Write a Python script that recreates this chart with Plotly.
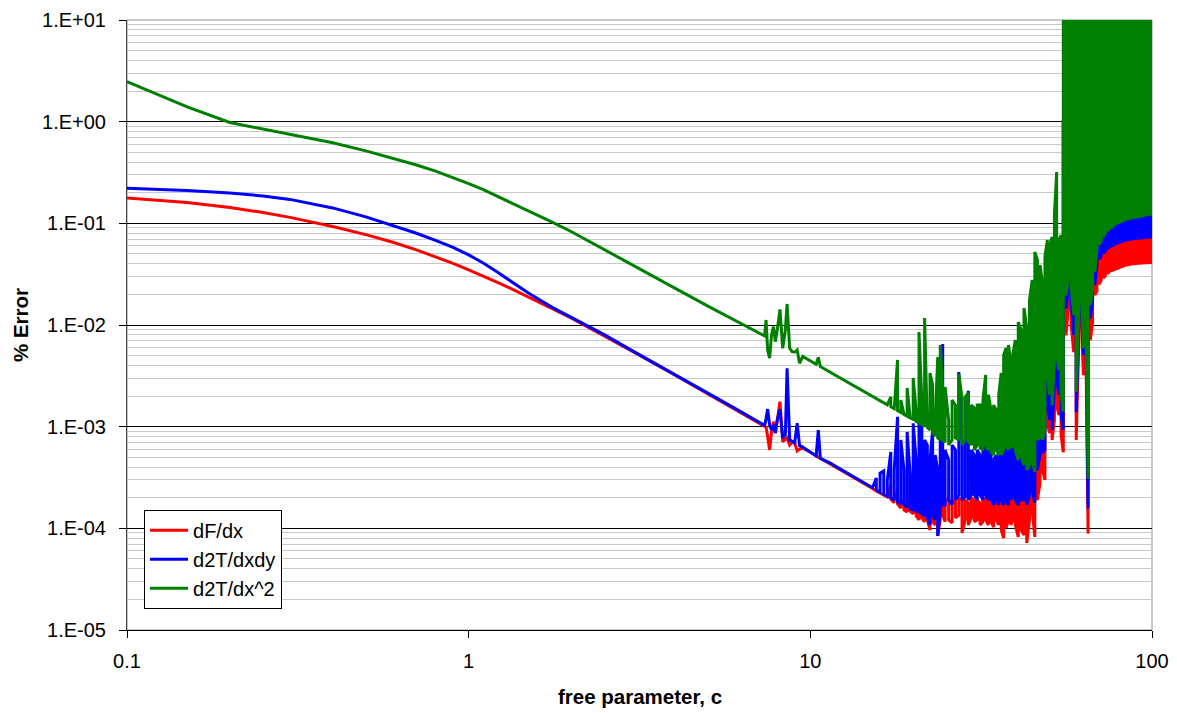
import plotly.graph_objects as go

# ---------------- data ----------------
# smooth part of the curves
c_smooth = [0.1, 0.12, 0.15, 0.2, 0.25, 0.3, 0.4, 0.5, 0.6, 0.7, 0.8, 0.9,
            1.0, 1.1, 1.2, 1.35, 1.5, 1.75, 2.0, 2.5, 3.0, 4.0, 5.0, 6.0, 7.0]
red_smooth = [0.177, 0.170, 0.160, 0.143, 0.128, 0.1145, 0.0930, 0.0775, 0.0652, 0.0552, 0.0470, 0.0403,
              0.0348, 0.0304, 0.0267, 0.0223, 0.0189, 0.0146, 0.0117, 0.00780, 0.00555, 0.00324,
              0.00212, 0.00150, 0.00111]
blue_smooth = [0.2212, 0.2172, 0.2109, 0.1988, 0.1857, 0.1720, 0.1418, 0.1159, 0.0959, 0.0804, 0.0681, 0.0581,
               0.0489, 0.0410, 0.0339, 0.0259, 0.0205, 0.0150, 0.0119, 0.00800, 0.00563, 0.00329,
               0.00215, 0.00152, 0.00113]
green_smooth = [2.47, 1.91, 1.40, 0.981, 0.851, 0.756, 0.620, 0.516, 0.4355, 0.3764, 0.3258, 0.2829,
                0.246, 0.2153, 0.188, 0.1566, 0.133, 0.1035, 0.0827, 0.0552, 0.0395, 0.0232,
                0.0154, 0.0112, 0.0085]

# first spikes (c ~ 7 .. 15)
c_spikes = [7.35, 7.42, 7.5, 7.6, 7.7, 7.8, 7.9, 8.0, 8.15, 8.3, 8.45, 8.55, 8.7, 8.85,
            9.0, 9.15, 9.3, 9.5, 10.0, 10.4, 10.55, 10.7, 11.4, 12.6, 14.0]
red_spikes = [0.00102, 0.00099, 0.00080, 0.00059, 0.000887, 0.00112, 0.000867, 0.00116, 0.00176,
              0.000711, 0.00074, 0.000775, 0.00066, 0.000706, 0.00069, 0.000577, 0.000603,
              0.000615, 0.00056, 0.000515, 0.000501, 0.000488, 0.000432, 0.000357, 0.000292]
blue_spikes = [0.00103, 0.00120, 0.00149, 0.00104, 0.000927, 0.00104, 0.000867, 0.00116, 0.00148,
               0.000775, 0.000828, 0.00375, 0.00074, 0.00072, 0.00069, 0.00108, 0.00065,
               0.00063, 0.000561, 0.000515, 0.000927, 0.000489, 0.00044, 0.00036, 0.000293]
green_spikes = [0.0078, 0.0112, 0.00568, 0.00473, 0.00798, 0.00962, 0.00686, 0.00893, 0.01426,
                0.0059, 0.00893, 0.0161, 0.0059, 0.00546, 0.00542, 0.00568, 0.0042,
                0.00491, 0.00447, 0.00411, 0.00481, 0.00391, 0.00345, 0.00285, 0.00233]

# noisy part (c ~ 15 .. 54): every c carries a pair of values (low/high)
c_noise = [15.2, 15.2, 15.6, 15.6, 16.0, 16.0, 16.4, 16.4, 16.8, 16.8, 17.2, 17.2,
           17.6, 17.6, 18.0, 18.0, 18.4, 18.4, 18.8, 18.8, 19.2, 19.2, 19.6, 19.6,
           20.0, 20.0, 20.4, 20.4, 20.8, 20.8, 21.2, 21.2, 21.6, 21.6, 22.0, 22.0,
           22.4, 22.4, 22.8, 22.8, 23.2, 23.2, 23.6, 23.6, 24.0, 24.0, 24.4, 24.4,
           24.8, 24.8, 25.4, 25.4, 26.0, 26.0, 26.6, 26.6, 27.2, 27.2, 27.8, 27.8,
           28.4, 28.4, 29.0, 29.0, 29.6, 29.6, 30.2, 30.2, 30.8, 30.8, 31.4, 31.4,
           32.0, 32.0, 32.6, 32.6, 33.2, 33.2, 33.8, 33.8, 34.4, 34.4, 35.0, 35.0,
           35.6, 35.6, 36.2, 36.2, 36.8, 36.8, 37.4, 37.4, 38.0, 38.0, 38.6, 38.6,
           39.2, 39.2, 39.8, 39.8, 40.6, 40.6, 41.4, 41.4, 42.2, 42.2, 43.0, 43.0,
           43.8, 43.8, 44.6, 44.6, 45.4, 45.4, 46.2, 46.2, 47.0, 47.0, 47.8, 47.8,
           48.6, 48.6, 49.4, 49.4, 50.2, 50.2, 51.0, 51.0, 51.8, 51.8, 52.6, 52.6,
           53.4, 53.4, 54.2, 54.2]
green_noise = [0.00199, 0.00199, 0.00190, 0.00190, 0.00180, 0.00180, 0.00172, 0.00172,
               0.00164, 0.00164, 0.00196, 0.00157, 0.00150, 0.00150, 0.00453, 0.00144,
               0.00138, 0.00183, 0.00132, 0.00132, 0.00127, 0.00240, 0.00122, 0.00122,
               0.00118, 0.00301, 0.00146, 0.00113, 0.00109, 0.00853, 0.00183, 0.00105,
               0.00101, 0.01172, 0.00130, 0.000979, 0.000928, 0.00337, 0.00257, 0.000867,
               0.00081, 0.00116, 0.00485, 0.000774, 0.00074, 0.00636, 0.00230, 0.00074,
               0.000707, 0.00246, 0.00116, 0.00066, 0.00074, 0.00183, 0.00163, 0.000774,
               0.00074, 0.00330, 0.00190, 0.00066, 0.00074, 0.00196, 0.00215, 0.000707,
               0.00066, 0.00163, 0.00153, 0.00059, 0.00066, 0.00163, 0.00163, 0.000617,
               0.00059, 0.00183, 0.00323, 0.00066, 0.00059, 0.00206, 0.00146, 0.000564,
               0.000527, 0.00163, 0.00146, 0.00059, 0.000527, 0.00206, 0.00337, 0.000527,
               0.00059, 0.00508, 0.00594, 0.00066, 0.00059, 0.00636, 0.00453, 0.000617,
               0.00066, 0.00530, 0.00712, 0.00059, 0.00047, 0.0107, 0.00893, 0.000527,
               0.00042, 0.0147, 0.00955, 0.000375, 0.00042, 0.0176, 0.0277, 0.00047,
               0.000359, 0.0523, 0.0436, 0.00074, 0.000792, 0.0389, 0.0259, 0.00074,
               0.000928, 0.0467, 0.0686, 0.00323, 0.00206, 0.0613, 0.0734, 0.00163,
               0.00453, 0.121, 0.32, 0.00531, 0.00361, 0.0686, 0.0768, 0.00206]
blue_noise = [0.000251, 0.000251, 0.000313, 0.000238, 0.000227, 0.000350, 0.000367, 0.000217,
              0.000208, 0.000299, 0.000564, 0.000199, 0.000190, 0.000375, 0.00125, 0.000182,
              0.000174, 0.00074, 0.000375, 0.000170, 0.000162, 0.000887, 0.000335, 0.000155,
              0.000152, 0.00108, 0.00047, 0.000148, 0.000145, 0.00146, 0.00140, 0.000139,
              0.000133, 0.00074, 0.00066, 0.000127, 0.000108, 0.00047, 0.000928, 0.000135,
              0.000121, 0.000527, 0.000375, 0.0000841, 0.000152, 0.000928, 0.0065, 0.00017,
              0.00017, 0.00059, 0.00047, 0.00019, 0.00017, 0.00066, 0.00059, 0.00019,
              0.000213, 0.00345, 0.00074, 0.00019, 0.000203, 0.00066, 0.00225, 0.00019,
              0.000213, 0.00059, 0.000527, 0.000213, 0.00019, 0.00059, 0.000527, 0.000213,
              0.00019, 0.00059, 0.00074, 0.000213, 0.00019, 0.00059, 0.000527, 0.00019,
              0.00017, 0.00047, 0.000527, 0.00019, 0.00017, 0.00059, 0.00066, 0.00019,
              0.00017, 0.00074, 0.000928, 0.00019, 0.00017, 0.00074, 0.000828, 0.00019,
              0.000213, 0.000928, 0.000928, 0.00019, 0.00017, 0.00116, 0.00116, 0.00019,
              0.00019, 0.00104, 0.00116, 0.00017, 0.000213, 0.00146, 0.00183, 0.000238,
              0.000178, 0.00183, 0.00288, 0.000375, 0.000527, 0.00361, 0.00453, 0.000552,
              0.00059, 0.00568, 0.00893, 0.0017, 0.00116, 0.0112, 0.0176, 0.000928,
              0.00257, 0.0221, 0.0277, 0.00288, 0.00206, 0.0348, 0.0277, 0.0013]
red_noise = [0.000247, 0.000247, 0.000233, 0.000233, 0.000222, 0.000222, 0.000213, 0.000213,
             0.000203, 0.000203, 0.000267, 0.000194, 0.000178, 0.000190, 0.000238, 0.000174,
             0.000158, 0.00019, 0.000178, 0.000152, 0.000145, 0.00017, 0.00017, 0.000148,
             0.000139, 0.00017, 0.000159, 0.000133, 0.000121, 0.00017, 0.00017, 0.000127,
             0.000116, 0.000159, 0.00017, 0.000121, 0.0000963, 0.000152, 0.00017, 0.000116,
             0.000108, 0.000159, 0.000152, 0.0000841, 0.000121, 0.00019, 0.000213, 0.000135,
             0.000116, 0.00019, 0.00019, 0.000121, 0.000113, 0.000178, 0.00019, 0.000127,
             0.000135, 0.000199, 0.00019, 0.00009, 0.000121, 0.00019, 0.000178, 0.000108,
             0.000127, 0.000199, 0.00019, 0.000116, 0.000121, 0.00019, 0.000178, 0.000108,
             0.000116, 0.00019, 0.000199, 0.000121, 0.000108, 0.00019, 0.00019, 0.000116,
             0.000103, 0.00017, 0.00019, 0.000121, 0.000108, 0.00019, 0.000178, 0.0000963,
             0.0000803, 0.00017, 0.00019, 0.000101, 0.000121, 0.000213, 0.000199, 0.000108,
             0.000121, 0.000213, 0.000199, 0.000108, 0.0000823, 0.00019, 0.000213, 0.0000963,
             0.0000861, 0.000238, 0.000213, 0.0000719, 0.000121, 0.000299, 0.000375, 0.000152,
             0.0000823, 0.000299, 0.00074, 0.00019, 0.000279, 0.000928, 0.00116, 0.000375,
             0.000299, 0.00116, 0.00288, 0.00104, 0.000867, 0.00361, 0.00453, 0.00074,
             0.00116, 0.00712, 0.00893, 0.00163, 0.0013, 0.00893, 0.00893, 0.000828]

# very dense part (c ~ 55 .. 100): every c carries a low and a high value
c_block = [55, 55, 56, 56, 57, 57, 58, 58, 59, 59, 60, 60, 61, 61, 62, 62, 63, 63,
           64, 64, 65, 65, 66, 66, 67, 67, 68, 68, 69, 69, 70, 70, 71, 71, 72, 72,
           73, 73, 74, 74, 75, 75, 76, 76, 77, 77, 78, 78, 79, 79, 80, 80, 81, 81,
           82, 82, 83, 83, 84, 84, 85, 85, 86, 86, 87, 87, 88, 88, 89, 89, 90, 90,
           91, 91, 92, 92, 93, 93, 94, 94, 95, 95, 96, 96, 97, 97, 98, 98, 99, 99,
           100, 100]
green_block = [0.00141, 1e3, 1e3, 0.0195, 0.0321, 1e3, 1e3, 0.0229, 0.0125, 1e3,
               1e3, 0.00219, 0.0125, 1e3, 1e3, 0.0248, 0.0059, 1e3, 1e3, 0.0145,
               0.00031, 1e3, 1e3, 0.0157, 0.0229, 1e3, 1e3, 0.0332, 0.0566, 1e3,
               1e3, 0.0620, 0.0670, 1e3, 1e3, 0.0740, 0.0800, 1e3, 1e3, 0.0840,
               0.0880, 1e3, 1e3, 0.0905, 0.0940, 1e3, 1e3, 0.0975, 0.1000, 1e3,
               1e3, 0.1015, 0.1040, 1e3, 1e3, 0.1060, 0.1075, 1e3, 1e3, 0.1100,
               0.1110, 1e3, 1e3, 0.1120, 0.1130, 1e3, 1e3, 0.1140, 0.1150, 1e3,
               1e3, 0.1155, 0.1160, 1e3, 1e3, 0.1170, 0.1180, 1e3, 1e3, 0.1190,
               0.1200, 1e3, 1e3, 0.1210, 0.1220, 1e3, 1e3, 0.1225, 0.1230, 1e3,
               1e3, 0.1236]
blue_block = [0.00093, 1, 1, 0.0145, 0.0229, 1, 1, 0.0163, 0.0080, 1,
              1, 0.00139, 0.0093, 1, 1, 0.0182, 0.0051, 1, 1, 0.0107,
              0.000157, 1, 1, 0.0116, 0.0176, 1, 1, 0.0248, 0.0389, 1,
              1, 0.0445, 0.0480, 1, 1, 0.0510, 0.0530, 1, 1, 0.0560,
              0.0590, 1, 1, 0.0598, 0.0610, 1, 1, 0.0628, 0.0640, 1,
              1, 0.0648, 0.0660, 1, 1, 0.0668, 0.0680, 1, 1, 0.0686,
              0.0690, 1, 1, 0.0698, 0.0700, 1, 1, 0.0705, 0.0710, 1,
              1, 0.0710, 0.0715, 1, 1, 0.0718, 0.0720, 1, 1, 0.0722,
              0.0725, 1, 1, 0.0728, 0.0730, 1, 1, 0.0732, 0.0734, 1,
              1, 0.0735]
red_block = [0.00056, 1, 1, 0.0079, 0.0156, 1, 1, 0.0100, 0.0054, 1,
             1, 0.00074, 0.0059, 1, 1, 0.0134, 0.0032, 1, 1, 0.0080,
             0.000089, 1, 1, 0.0071, 0.0107, 1, 1, 0.0197, 0.0214, 1,
             1, 0.0252, 0.0275, 1, 1, 0.0290, 0.0303, 1, 1, 0.0320,
             0.0335, 1, 1, 0.0340, 0.0350, 1, 1, 0.0355, 0.0362, 1,
             1, 0.0366, 0.0374, 1, 1, 0.0378, 0.0384, 1, 1, 0.0389,
             0.0392, 1, 1, 0.0395, 0.0398, 1, 1, 0.0400, 0.0402, 1,
             1, 0.0403, 0.0405, 1, 1, 0.0406, 0.0407, 1, 1, 0.0408,
             0.0409, 1, 1, 0.0410, 0.0411, 1, 1, 0.0411, 0.0412, 1,
             1, 0.0412]

series_names = ["dF/dx", "d2T/dxdy", "d2T/dx^2"]
series_colors = ["#ff0000", "#0000ff", "#008000"]

x_tickvals = [0.1, 1, 10, 100]
x_ticktext = ["0.1", "1", "10", "100"]
y_tickvals = [1e-5, 1e-4, 1e-3, 1e-2, 1e-1, 1, 10]
y_ticktext = ["1.E-05", "1.E-04", "1.E-03", "1.E-02", "1.E-01", "1.E+00", "1.E+01"]

x_title = "free parameter, c"
y_title = "% Error"

# ---------------- figure ----------------
c_all = c_smooth + c_spikes + c_noise + c_block
series_values = [
    red_smooth + red_spikes + red_noise + red_block,
    blue_smooth + blue_spikes + blue_noise + blue_block,
    green_smooth + green_spikes + green_noise + green_block,
]

FONT = "Liberation Sans, Arial, Helvetica, sans-serif"

fig = go.Figure()
for name, color, vals in zip(series_names, series_colors, series_values):
    fig.add_trace(go.Scatter(
        x=c_all, y=vals, mode="lines", name=name,
        line=dict(color=color, width=3),
        hoverinfo="skip",
    ))

fig.update_layout(
    width=1177, height=713,
    margin=dict(l=127, r=25, t=20, b=83, autoexpand=False),
    paper_bgcolor="white", plot_bgcolor="white",
    font=dict(family=FONT, size=20, color="black"),
    showlegend=True,
    legend=dict(
        x=0.0166, y=0.197, xanchor="left", yanchor="top",
        bgcolor="white", bordercolor="black", borderwidth=1,
        font=dict(family=FONT, size=20, color="black"),
        tracegroupgap=0, itemwidth=38,
    ),
    xaxis=dict(
        type="log", range=[-1, 2], automargin=False,
        tickmode="array", tickvals=x_tickvals, ticktext=x_ticktext,
        ticks="outside", ticklen=7, tickcolor="black", tickwidth=1,
        ticklabelstandoff=6,
        showgrid=False, zeroline=False,
        showline=True, linecolor="black", linewidth=1,
        tickfont=dict(family=FONT, size=20, color="black"),
    ),
    yaxis=dict(
        type="log", range=[-5, 1], automargin=False,
        tickmode="array", tickvals=y_tickvals, ticktext=y_ticktext,
        ticks="outside", ticklen=7, tickcolor="black", tickwidth=1,
        ticklabelstandoff=9,
        showgrid=True, gridcolor="#000000", gridwidth=1,
        minor=dict(dtick="D1", showgrid=True, gridcolor="#c8c8c8", gridwidth=1, ticks=""),
        zeroline=False,
        showline=True, linecolor="#404040", linewidth=1,
        tickfont=dict(family=FONT, size=20, color="black"),
    ),
    annotations=[
        dict(text="<b>" + x_title + "</b>", xref="paper", yref="paper",
             x=0.5, y=-0.1098, xanchor="center", yanchor="middle",
             showarrow=False, font=dict(family=FONT, size=20.5, color="black")),
        dict(text="<b>" + y_title + "</b>", xref="paper", yref="paper",
             x=-0.1044, y=0.5, xanchor="center", yanchor="middle", textangle=-90,
             showarrow=False, font=dict(family=FONT, size=20.5, color="black")),
    ],
    shapes=[
        dict(type="rect", xref="paper", yref="paper", x0=0, y0=0, x1=1, y1=1,
             line=dict(color="#909090", width=1), layer="below"),
    ],
)

fig.write_html("out.html")
